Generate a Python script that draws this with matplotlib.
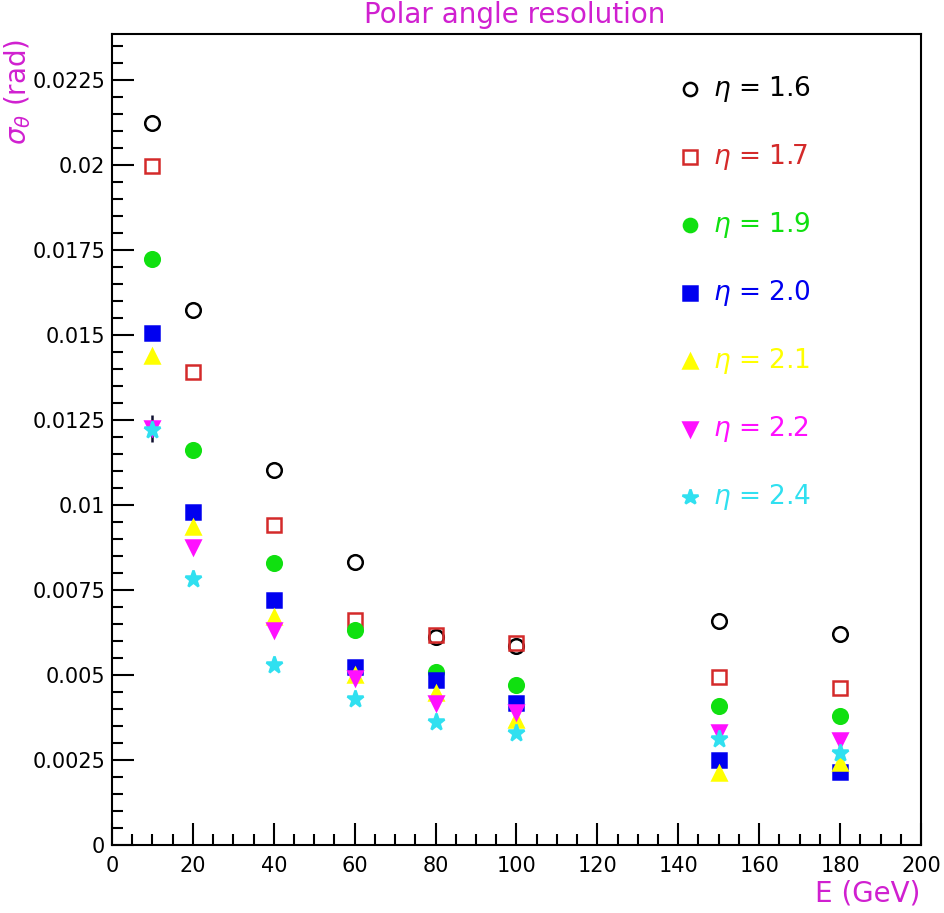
import numpy as np
import matplotlib
matplotlib.use('Agg')
import matplotlib.pyplot as plt
from matplotlib.ticker import MultipleLocator

# Data
energy = [10, 20, 40, 60, 80, 100, 150, 180]
eta_labels = ['1.6', '1.7', '1.9', '2.0', '2.1', '2.2', '2.4']
sigma_16 = [0.02124, 0.01574, 0.01103, 0.00832, 0.00612, 0.00585, 0.00659, 0.00620]
sigma_17 = [0.01997, 0.01391, 0.00941, 0.00662, 0.00618, 0.00594, 0.00494, 0.00462]
sigma_19 = [0.01724, 0.01162, 0.00829, 0.00632, 0.00509, 0.00471, 0.00409, 0.00379]
sigma_20 = [0.01506, 0.00979, 0.00721, 0.00524, 0.00485, 0.00418, 0.00250, 0.00215]
sigma_21 = [0.01438, 0.00935, 0.00670, 0.00500, 0.00447, 0.00368, 0.00212, 0.00241]
sigma_22 = [0.01225, 0.00876, 0.00632, 0.00490, 0.00418, 0.00391, 0.00332, 0.00309]
sigma_24 = [0.01221, 0.00782, 0.00529, 0.00430, 0.00362, 0.00329, 0.00312, 0.00271]
err_22_at10 = 0.0004
ytick_labels = ['0', '0.0025', '0.005', '0.0075', '0.01', '0.0125',
                '0.015', '0.0175', '0.02', '0.0225']

series = [sigma_16, sigma_17, sigma_19, sigma_20, sigma_21, sigma_22, sigma_24]
colors = ['black', '#d42a2a', '#10e010', '#0000f0', '#ffff00', '#ff10ff', '#30e0f0']
markers = ['o', 's', 'o', 's', '^', 'v', '*']
filled = [False, False, True, True, True, True, True]
sizes = [10.5, 10.5, 10.5, 10.5, 10.5, 10.5, 12.5]
magenta = '#d020d0'

fig = plt.figure(figsize=(9.44, 9.13), dpi=100)
ax = fig.add_axes([0.1186, 0.0745, 0.857, 0.8883])

# error bar on the eta=2.2 point at 10 GeV
ax.errorbar([energy[0]], [sigma_22[0]], yerr=[err_22_at10], fmt='none',
            ecolor='#101030', elinewidth=1.8, capsize=0, zorder=2)

for vals, c, m, f, s in zip(series, colors, markers, filled, sizes):
    ax.plot(energy, vals, linestyle='none', marker=m, markersize=s,
            markerfacecolor=c if f else 'none', markeredgecolor=c,
            markeredgewidth=1.8, zorder=3)

ax.set_xlim(0, 200)
ax.set_ylim(0, 0.02385)
ax.xaxis.set_major_locator(MultipleLocator(20))
ax.xaxis.set_minor_locator(MultipleLocator(5))
ax.set_yticks(np.arange(0, 0.0226, 0.0025))
ax.set_yticklabels(ytick_labels)
ax.yaxis.set_minor_locator(MultipleLocator(0.0005))
ax.tick_params(which='both', direction='in', top=False, right=False, width=1.5,
               labelsize=15, colors='black')
ax.tick_params(which='major', length=16)
ax.tick_params(axis='x', which='major', pad=8)
ax.tick_params(axis='y', which='major', pad=5)
ax.tick_params(which='minor', length=8)
for sp in ax.spines.values():
    sp.set_linewidth(1.5)

# legend drawn as marker + text in axes
leg_x_marker = 0.715
leg_x_text = 0.743
leg_y0 = 0.932
leg_dy = 0.0838
for i, (lab, c, m, f, s) in enumerate(zip(eta_labels, colors, markers, filled, sizes)):
    y = leg_y0 - i * leg_dy
    ax.plot([leg_x_marker], [y], transform=ax.transAxes, linestyle='none',
            marker=m, markersize=s - 1, markerfacecolor=c if f else 'none',
            markeredgecolor=c, markeredgewidth=1.8, clip_on=False)
    ax.text(leg_x_text, y, r'$\eta$ = ' + lab, transform=ax.transAxes,
            color=c, fontsize=19, va='center', ha='left')

fig.text(0.545, 0.984, 'Polar angle resolution', color=magenta, fontsize=20,
         ha='center', va='center')
fig.text(0.019, 0.958, r'$\sigma_\theta$ (rad)', color=magenta, fontsize=20,
         rotation=90, ha='center', va='top')
fig.text(0.975, 0.021, 'E (GeV)', color=magenta, fontsize=20, ha='right',
         va='center')

fig.savefig('out.png', dpi=100)
